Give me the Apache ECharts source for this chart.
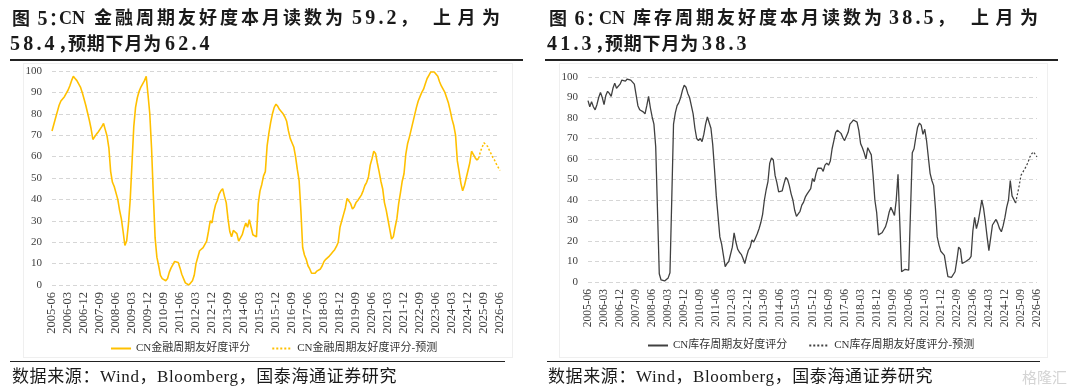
<!DOCTYPE html>
<html><head><meta charset="utf-8">
<script src="https://cdn.jsdelivr.net/npm/echarts@6/dist/echarts.min.js"></script>
<style>
html,body{margin:0;padding:0;background:#fff;}
body{width:1080px;height:389px;overflow:hidden;position:relative;font-family:"Liberation Serif","Noto Sans CJK SC",serif;color:#1a1a1a;}
#c{position:absolute;left:0;top:0;width:1080px;height:389px;}
.box{position:absolute;border:1px solid #efefef;}
.tt{position:absolute;font-weight:bold;font-size:18px;line-height:22px;white-space:nowrap;}
.num{font-size:20px;}
.rule{position:absolute;background:#222;}
.src{position:absolute;font-size:17px;line-height:20px;white-space:nowrap;letter-spacing:0.6px;color:#1a1a1a;}
.wm{position:absolute;font-size:15px;color:#d4d4d4;font-family:"Noto Sans CJK SC";}
</style>
</head><body>
<div class="box" style="left:23px;top:63px;width:488px;height:293px;"></div>
<div class="box" style="left:559px;top:63px;width:487px;height:293px;"></div>
<div id="c"></div>
<!-- left title -->
<div class="tt" style="left:12px;top:7px;letter-spacing:1.5px;">图 <span class="num">5</span>：</div>
<div class="tt" style="left:59px;top:7px;">CN</div>
<div class="tt" style="left:94px;top:7px;letter-spacing:3px;">金融周期友好度本月读数为</div>
<div class="tt" style="left:352px;top:6px;letter-spacing:3.2px;"><span class="num">59.2</span>，</div>
<div class="tt" style="left:433px;top:7px;letter-spacing:6.5px;">上月为</div>
<div class="tt" style="left:10px;top:32px;letter-spacing:3.2px;"><span class="num">58.4</span>，</div>
<div class="tt" style="left:68px;top:33px;letter-spacing:0.8px;">预期下月为</div>
<div class="tt" style="left:165px;top:32px;letter-spacing:3.2px;"><span class="num">62.4</span></div>
<div class="rule" style="left:10px;top:59px;width:513px;height:1.5px;"></div>
<div class="rule" style="left:10px;top:361px;width:495px;height:1px;"></div>
<div class="src" style="left:12px;top:367px;">数据来源：Wind，Bloomberg，国泰海通证券研究</div>
<!-- right title -->
<div class="tt" style="left:549px;top:7px;letter-spacing:1.5px;">图 <span class="num">6</span>：</div>
<div class="tt" style="left:599px;top:7px;">CN</div>
<div class="tt" style="left:633px;top:7px;letter-spacing:3px;">库存周期友好度本月读数为</div>
<div class="tt" style="left:889px;top:6px;letter-spacing:3.2px;"><span class="num">38.5</span>，</div>
<div class="tt" style="left:971px;top:7px;letter-spacing:6.5px;">上月为</div>
<div class="tt" style="left:547px;top:32px;letter-spacing:3.2px;"><span class="num">41.3</span>，</div>
<div class="tt" style="left:605px;top:33px;letter-spacing:0.8px;">预期下月为</div>
<div class="tt" style="left:702px;top:32px;letter-spacing:3.2px;"><span class="num">38.3</span></div>
<div class="rule" style="left:545px;top:59px;width:513px;height:1.5px;"></div>
<div class="rule" style="left:547px;top:361px;width:493px;height:1px;"></div>
<div class="src" style="left:548px;top:367px;">数据来源：Wind，Bloomberg，国泰海通证券研究</div>
<div class="wm" style="left:1022px;top:366px;">格隆汇</div>
<script>
// ---- data ----
const startYear = 2005, startMonth = 6, monthCount = 253;
const categories = [];
for (let k = 0; k < monthCount; k++) {
  const m = startMonth - 1 + k;
  const y = startYear + Math.floor(m / 12);
  const mm = (m % 12) + 1;
  categories.push(y + '-' + (mm < 10 ? '0' + mm : mm));
}
const yTicks = [0,10,20,30,40,50,60,70,80,90,100];

const finName = 'CN金融周期友好度评分';
const finFcName = 'CN金融周期友好度评分-预测';
const invName = 'CN库存周期友好度评分';
const invFcName = 'CN库存周期友好度评分-预测';

// financial cycle, 2005-06 .. 2025-06
const finActual = [
72,75,78,81,84,86,86.5,88,89.5,91,
93,95.5,97.5,96.5,95.5,94,92.5,90,87,84,
80.5,77,73,68,67.5,70.5,71.5,72,74,75.5,
72.5,69.5,64,53,48,46,46,40,35,31,
25,18.5,20.6,28.5,40,57,74,83,87.5,90.5,
92.5,94,95.5,97.5,89,80,64,42,22,13,
9,4.5,3,2.5,2,3,6,8,9.5,11,
11,10.5,8,5,3,1,0.3,0,0.8,2,
4.5,10,13,16,16.5,17.5,19,20.5,25,30,
29,34,37.5,39.5,42.5,44,45,41.5,38.5,31,
25,22.5,25.5,25,24,20.5,20.5,23.5,26.5,29,
27,30.5,27,23.5,23.5,22.5,38,44,47,51,
53,65,71,76,80,83,84.5,83.5,82,81.5,
80,78.5,76.5,72,68.5,66.5,64.5,60,54,48.8,
34.7,17.5,14,12,9,7.5,5.5,5,5.5,6.5,
6,7.5,9,11,12,12.5,13.5,14.5,15.5,16.5,
18,20,27,30,33,36,40.5,40,38,35.5,
36.5,38.5,39.5,39,42,44,46.5,48,50.5,56,
59,62.5,61.5,57,53,48.5,45,38.5,35,30.5,
26,21.5,22.5,27,31,38,43,48.5,52,61,
66,69,72.5,76,79.5,83,86,88,90,91.5,
94,96.5,98,99.5,99.8,99.5,99,97.5,95,93,
91.5,90,87.5,85,81.5,77.5,74.5,70,58,53,
47.5,44,46.5,50,53.5,57,62.5,61,59.5,58.4,
59.2];
// forecast, 2025-06 .. 2026-06
const finForecast = [59.2,62.4,64.5,66.4,65.8,64.8,63,61.3,59.5,58.2,56.5,55,53.5];

// inventory cycle, 2005-06 .. 2025-06
const invActual = [
88.5,85.5,88,85.5,84,86.5,90,92.5,90,86.5,
91,93,92,90.5,94.5,97,94.5,94.5,96.5,98.5,
98,98,99,99.7,98.5,97.5,96.5,96,86,84,
83.5,83,82,86,90.5,85,80.5,77,66,35,
4,1,0.2,0.5,1,2,4.5,40,77,82.5,
86,87.5,90,93.5,96,95,92,90,86,82,
75,70,69,70,68.5,72,77,80.5,80,75,
67,55,42,32,22,18.5,13,7.5,9,10,
10.5,17,24,19.5,16,14.5,13.5,11.5,9,12.5,
15.5,17,20.5,19.5,21.5,23.5,26,29,33,40,
45,49,58,60.5,59.5,52,48.5,44,43.5,44.5,
48,51,50,47,43,40,35,32,32.5,34.5,
37.5,39,41.5,43,43,45.5,50.5,49,53,55.5,
56,55.5,54,57,58,57,59,65,69,73,
74,74,72.5,70.5,69,68.5,73,77,78,79,
79.2,78,74,67.5,65.5,63,60,65.5,65.8,62,
52,40,34,23,23,24,25.5,27,30,34,
36.5,36,32.5,40,52.5,52.8,5,5,6.2,5.8,
5.8,6.5,63,65,70.5,75.5,77.5,76.5,72,74.5,
69,61,53,49.5,47,36,22,18,15,15.3,
13,7.5,2.6,2.3,2.3,2.5,5,10.5,17,16,
9,8.8,10,10.7,11.2,12.5,25,31.5,26,29.5,
34.5,40,36,29.5,22,15.3,21.5,27.8,28.2,30.5,
28.6,26,24.5,27.5,31.5,36.5,40,49.5,42,41.3,
38.5];
const invForecast = [38.5,38.3,47,52,53.5,55,56.5,58.5,61,62.5,63.5,63,61];

// ---- build ----
function pad(actual) {
  const a = actual.slice();
  while (a.length < monthCount) a.push(null);
  return a;
}
function padFc(fc) {
  const a = [];
  const start = monthCount - fc.length;
  for (let k = 0; k < start; k++) a.push(null);
  return a.concat(fc);
}
const serif = 'Liberation Serif';
const legFont = "'Liberation Serif','Noto Sans CJK SC'";
const finColor = '#FFC000';
const invColor = '#404040';

function xAxis(gi, fs) {
  return {
    type: 'category', gridIndex: gi, data: categories, boundaryGap: false,
    axisLine: {show: false}, axisTick: {show: false}, splitLine: {show: false},
    axisLabel: {interval: 8, rotate: 90, fontSize: fs, color: '#404040', fontFamily: serif, margin: 7}
  };
}
function yAxis(gi) {
  return {
    type: 'value', gridIndex: gi, min: yTicks[0], max: yTicks[yTicks.length - 1], interval: 10,
    axisLine: {show: false}, axisTick: {show: false},
    axisLabel: {fontSize: 11, color: '#404040', fontFamily: serif, margin: 10},
    splitLine: {show: true, lineStyle: {color: '#d6d6d6', width: 1, type: [4, 3]}}
  };
}
function legend(names, left, top) {
  return {data: names, left: left, top: top, itemWidth: 20, itemHeight: 10, itemGap: 21,
    itemStyle: {opacity: 0, borderWidth: 0},
    textStyle: {fontSize: 11, color: '#333', fontFamily: legFont}};
}

const option = {
  animation: false,
  grid: [
    {left: 52, right: 580, top: 71, bottom: 104},
    {left: 588, right: 43, top: 77, bottom: 107}
  ],
  xAxis: [xAxis(0, 12.5), xAxis(1, 11.5)],
  yAxis: [yAxis(0), yAxis(1)],
  legend: [legend([finName, finFcName], 105, 338), legend([invName, invFcName], 642, 335)],
  series: [
    {name: finName, type: 'line', xAxisIndex: 0, yAxisIndex: 0, data: pad(finActual), symbol: 'none',
     lineStyle: {color: finColor, width: 1.6}, itemStyle: {color: finColor}},
    {name: finFcName, type: 'line', xAxisIndex: 0, yAxisIndex: 0, data: padFc(finForecast), symbol: 'none',
     lineStyle: {color: finColor, width: 1.5, type: [2, 2]}, itemStyle: {color: finColor}},
    {name: invName, type: 'line', xAxisIndex: 1, yAxisIndex: 1, data: pad(invActual), symbol: 'none',
     lineStyle: {color: invColor, width: 1.3}, itemStyle: {color: invColor}},
    {name: invFcName, type: 'line', xAxisIndex: 1, yAxisIndex: 1, data: padFc(invForecast), symbol: 'none',
     lineStyle: {color: invColor, width: 1.2, type: [2, 2]}, itemStyle: {color: invColor}}
  ]
};
const chart = echarts.init(document.getElementById('c'), null, {renderer: 'canvas'});
chart.setOption(option);
</script>
</body></html>
